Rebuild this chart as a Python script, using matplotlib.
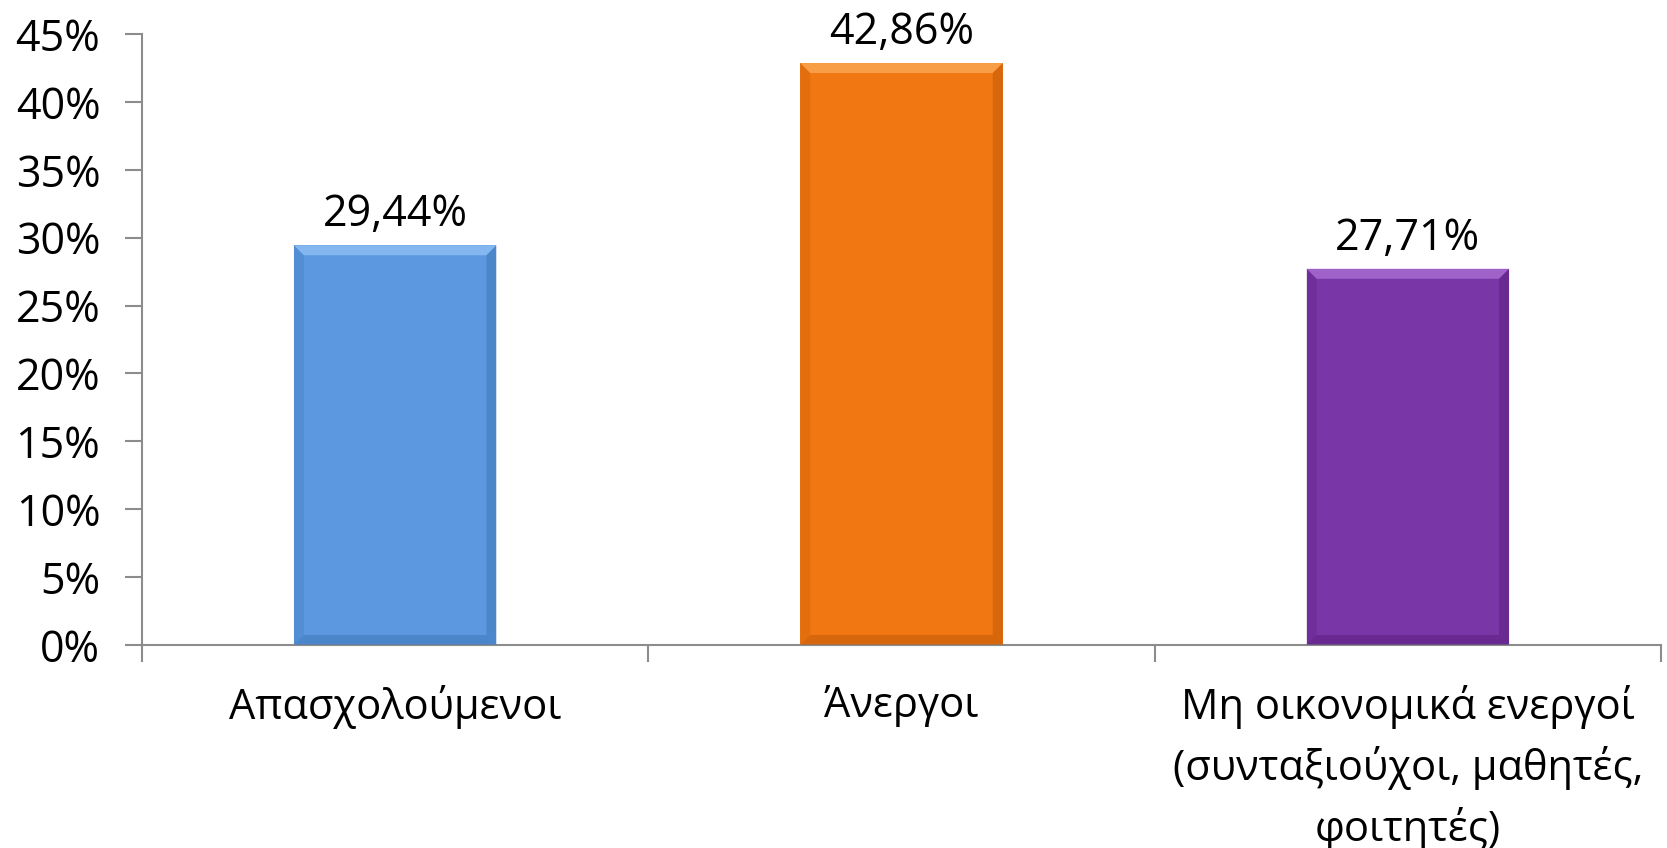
import numpy as np
import matplotlib.pyplot as plt
from matplotlib.patches import Polygon

plt.rcParams['font.family'] = ['Open Sans', 'DejaVu Sans']

categories = ['Απασχολούμενοι', 'Άνεργοι',
              'Μη οικονομικά ενεργοί\n(συνταξιούχοι, μαθητές,\nφοιτητές)']
values = [29.44, 42.86, 27.71]
value_labels = ['29,44%', '42,86%', '27,71%']
colors = ['#5B98DF', '#F07712', '#7936A6']
light = ['#8CBDF2', '#F9A650', '#A66BD0']
dark = ['#3F78BC', '#C45A08', '#5A2180']
yticks = [0, 5, 10, 15, 20, 25, 30, 35, 40, 45]

W, H = 1667, 848
fig = plt.figure(figsize=(W / 100, H / 100), dpi=100)
ax = fig.add_axes([142 / W, 1 - 645 / H, (1661 - 142) / W, (645 - 34) / H])

x = np.arange(len(categories))
bw = 0.4
ax.bar(x, values, width=bw, color=colors, zorder=2)

# bevel effect, size in pixels converted to data units
px_x = 3 / ((1661 - 142))
px_y = 45 / (645 - 34)
b = 10
for xi, v, c, lt, dk in zip(x, values, colors, light, dark):
    l, r = xi - bw / 2, xi + bw / 2
    bx, by = b * px_x, b * px_y
    # top
    ax.add_patch(Polygon([[l, v], [r, v], [r - bx, v - by], [l + bx, v - by]],
                         closed=True, color=lt, lw=0, alpha=0.85, zorder=3))
    # left
    ax.add_patch(Polygon([[l, 0], [l, v], [l + bx, v - by], [l + bx, by]],
                         closed=True, color=dk, lw=0, alpha=0.3, zorder=3))
    # right
    ax.add_patch(Polygon([[r, 0], [r, v], [r - bx, v - by], [r - bx, by]],
                         closed=True, color=dk, lw=0, alpha=0.55, zorder=3))
    # bottom
    ax.add_patch(Polygon([[l, 0], [r, 0], [r - bx, by], [l + bx, by]],
                         closed=True, color=dk, lw=0, alpha=0.55, zorder=3))
    ax.text(xi, v + 0.6, value_labels[int(xi)], ha='center', va='bottom',
            fontsize=31)

ax.set_xlim(-0.5, 2.5)
ax.set_ylim(0, 45)
ax.set_yticks(yticks)
ax.set_yticklabels([f'{t}%' for t in yticks], fontsize=31)
ax.set_xticks(x)
ax.set_xticklabels(categories, fontsize=30, linespacing=1.5)
ax.set_xticks([-0.5, 0.5, 1.5, 2.5], minor=True)
ax.tick_params(axis='x', which='major', length=0, pad=29)
ax.tick_params(axis='x', which='minor', length=12, color='#8C8C8C', width=1.5)
ax.tick_params(axis='y', length=12, color='#8C8C8C', width=1.5, pad=18)

for s in ['top', 'right']:
    ax.spines[s].set_visible(False)
for s in ['left', 'bottom']:
    ax.spines[s].set_color('#8C8C8C')
    ax.spines[s].set_linewidth(1.5)

fig.savefig('out.png', dpi=100)
